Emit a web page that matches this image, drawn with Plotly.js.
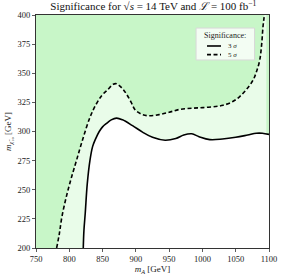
<!DOCTYPE html>
<html>
<head>
<meta charset="utf-8">
<script src="https://cdn.plot.ly/plotly-3.0.1.min.js"></script>
<style>html,body{margin:0;padding:0;background:#fff;}#chart{width:284px;height:279px;}</style>
</head>
<body>
<div id="chart"></div>
<script>
// 3 sigma contour (m_A [GeV], m_chi [GeV])
const mA3 = [821, 822, 824, 827, 831, 835, 839, 845, 850, 856, 863, 871, 880, 895, 910, 925, 944, 960, 972, 984, 995, 1011, 1030, 1050, 1068, 1081, 1090, 1100];
const m3  = [200, 215, 230, 255, 275, 287, 293, 300, 304, 307, 310, 311.5, 310, 305, 299.5, 295, 292.5, 294, 297, 298, 295.5, 293, 293.5, 295, 297, 298.5, 298.5, 297.5];
// 5 sigma contour
const mA5 = [781, 785, 789, 796, 803, 811, 820, 831, 840, 849, 858, 866, 871, 876, 881, 886, 893, 899, 908, 919, 935, 950, 966, 985, 1001, 1020, 1031, 1045, 1056, 1066, 1076, 1081, 1086, 1089, 1091, 1093, 1096];
const m5  = [200, 212, 227, 245, 260, 275.5, 293, 312, 323, 331, 336, 340.5, 341, 339, 336, 332, 325, 318.5, 315, 313.5, 314.5, 316.5, 319, 320, 320.5, 321.5, 322.5, 325.5, 330, 336, 344, 351, 361, 375, 390, 400, 420];
const xTicks = [750, 800, 850, 900, 950, 1000, 1050, 1100];
const yTicks = [200, 225, 250, 275, 300, 325, 350, 375, 400];
const legendTitle = 'Significance:';
const legendLabels = ['3 <i>σ</i>', '5 <i>σ</i>'];

const serif = '"Liberation Serif", "DejaVu Serif", serif';
const traces = [
  {x: mA5, y: m5, mode: 'lines', line: {width: 0, shape: 'spline'}, fill: 'tozeroy', fillcolor: 'rgb(233,252,233)', showlegend: false, hoverinfo: 'skip'},
  {x: mA3, y: m3, mode: 'lines', line: {width: 0, shape: 'spline'}, fill: 'tozeroy', fillcolor: '#ffffff', showlegend: false, hoverinfo: 'skip'},
  {x: mA3, y: m3, mode: 'lines', name: legendLabels[0], showlegend: false, line: {color: '#000', width: 1.6, shape: 'spline'}},
  {x: mA5, y: m5, mode: 'lines', name: legendLabels[1], showlegend: false, line: {color: '#000', width: 1.6, dash: '4px,2.5px', shape: 'spline'}}
];
const axBase = {showgrid: false, zeroline: false, showline: true, mirror: true, linecolor: '#333', linewidth: 1,
  ticks: 'outside', ticklen: 3, tickwidth: 0.8, tickcolor: '#333', tickfont: {family: serif, size: 8.5, color: '#222'}};

// compact legend (box, sample lines, labels) in paper coordinates
const lgFont = {family: serif, size: 8, color: '#222'};
const itemFont = {family: serif, size: 7, color: '#222'};
const shapes = [
  {type: 'rect', xref: 'paper', yref: 'paper', x0: 0.687, x1: 0.938, y0: 0.807, y1: 0.944, fillcolor: 'rgba(255,255,255,0.78)', line: {color: '#d8d8d8', width: 1}, layer: 'above'},
  {type: 'line', xref: 'paper', yref: 'paper', x0: 0.734, x1: 0.794, y0: 0.867, y1: 0.867, line: {color: '#000', width: 1.6}, layer: 'above'},
  {type: 'line', xref: 'paper', yref: 'paper', x0: 0.734, x1: 0.794, y0: 0.830, y1: 0.830, line: {color: '#000', width: 1.6, dash: '4px,2.5px'}, layer: 'above'}
];
const annotations = [
  {xref: 'paper', yref: 'paper', x: 0.812, y: 0.914, text: legendTitle, showarrow: false, xanchor: 'center', yanchor: 'middle', font: lgFont},
  {xref: 'paper', yref: 'paper', x: 0.815, y: 0.867, text: legendLabels[0], showarrow: false, xanchor: 'left', yanchor: 'middle', font: itemFont},
  {xref: 'paper', yref: 'paper', x: 0.815, y: 0.830, text: legendLabels[1], showarrow: false, xanchor: 'left', yanchor: 'middle', font: itemFont}
];

const layout = {
  width: 284, height: 279,
  margin: {l: 36, r: 15, t: 15, b: 31},
  paper_bgcolor: '#fff', plot_bgcolor: 'rgb(200,246,200)',
  showlegend: false,
  title: {text: 'Significance for √<i>s</i> = 14 TeV and <i>ℒ</i> = 100 fb<sup>−1</sup>', font: {family: serif, size: 11, color: '#111'}, x: 0.54, xanchor: 'center', y: 0.99, yanchor: 'top'},
  xaxis: Object.assign({}, axBase, {range: [750, 1100], tickvals: xTicks, title: {text: '<i>m<sub>A</sub></i> [GeV]', font: {family: serif, size: 9, color: '#222'}, standoff: 2}}),
  yaxis: Object.assign({}, axBase, {range: [200, 400], tickvals: yTicks, title: {text: '<i>m</i><sub><i>χ̃</i>₁₀</sub> [GeV]', font: {family: serif, size: 9, color: '#222'}, standoff: 4}}),
  shapes: shapes,
  annotations: annotations
};
Plotly.newPlot('chart', traces, layout, {displayModeBar: false, staticPlot: true});
</script>
</body>
</html>
